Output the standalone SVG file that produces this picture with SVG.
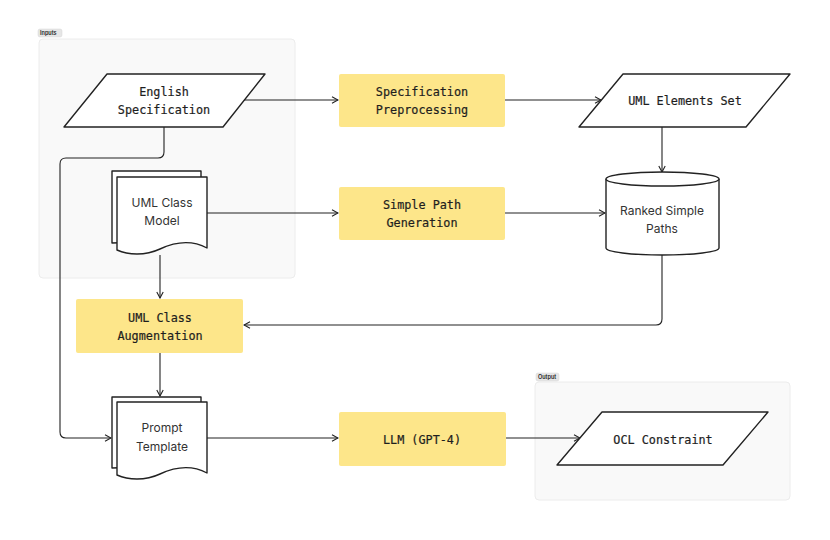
<svg xmlns="http://www.w3.org/2000/svg" width="830" height="540" viewBox="0 0 830 540">
<defs>
<marker id="arr" viewBox="0 0 8 8" refX="7" refY="4" markerWidth="8" markerHeight="8" markerUnits="userSpaceOnUse" orient="auto">
<path d="M1,0.8 L7,4 L1,7.2" fill="none" stroke="#222" stroke-width="1.1"/>
</marker>
</defs>
<style>
.grp{fill:#f9f9f9;stroke:#ececec;stroke-width:1}
.pill{fill:#e6e6e6;stroke:#d4d4d4;stroke-width:0.5}
.pilltxt{font-family:Inter,"Liberation Sans",sans-serif;font-size:5.5px;fill:#222;font-weight:600}
.shape{fill:#fff;stroke:#222;stroke-width:1.4;stroke-linejoin:round}
.proc{fill:#fde68a}
.mono{font-family:"DejaVu Sans Mono","Liberation Mono",monospace;font-size:11.8px;fill:#1e1e1e;text-anchor:middle;stroke:#1e1e1e;stroke-width:0.2}
.sans{font-family:Inter,"Liberation Sans",sans-serif;font-size:12px;fill:#333;text-anchor:middle}
.conn{fill:none;stroke:#222;stroke-width:1.1;marker-end:url(#arr)}
</style>
<rect width="830" height="540" fill="#fff"/>

<g id="group-inputs">
<rect class="grp" x="39" y="39" width="256" height="239" rx="4"/>
<rect class="pill" x="38" y="29" width="24" height="8" rx="2"/>
<text class="pilltxt" x="40" y="35">Inputs</text>
</g>
<g id="group-output">
<rect class="grp" x="535" y="382" width="255" height="118" rx="4"/>
<rect class="pill" x="536" y="373" width="23" height="8" rx="2"/>
<text class="pilltxt" x="538" y="379">Output</text>
</g>

<g id="connectors">
<path class="conn" d="M244,100 L338,100"/>
<path class="conn" d="M505,100 L601,100"/>
<path class="conn" d="M662,127 L662,172"/>
<path class="conn" d="M207,213 L338,213"/>
<path class="conn" d="M505,213 L605,213"/>
<path class="conn" d="M662,255 L662,319 Q662,325 656,325 L244,325"/>
<path class="conn" d="M160,255 L160,298"/>
<path class="conn" d="M160,353 L160,396"/>
<path class="conn" d="M164,127 L164,152 Q164,158 158,158 L66,158 Q60,158 60,164 L60,432 Q60,438 66,438 L111,438"/>
<path class="conn" d="M207,438 L338,438"/>
<path class="conn" d="M506,438 L580,438"/>
</g>

<g id="english-spec">
<path class="shape" d="M107,74 L265,74 L223,127 L64,127 Z"/>
<text class="mono" x="164" y="96">English</text>
<text class="mono" x="164" y="114">Specification</text>
</g>

<g id="spec-preproc">
<rect class="proc" x="339" y="74" width="166" height="53" rx="2"/>
<text class="mono" x="422" y="96">Specification</text>
<text class="mono" x="422" y="114">Preprocessing</text>
</g>

<g id="uml-elements-set">
<path class="shape" d="M623,74 L790,74 L746,127 L579,127 Z"/>
<text class="mono" x="685" y="105">UML Elements Set</text>
</g>

<g id="uml-class-model">
<path class="shape" d="M112,243 L112,171 L201,171 L201,240 Z"/>
<path class="shape" d="M117,250 L117,177 L207,177 L207,248 C192,240 175,242 160,249 C145,256 128,255 117,250 Z"/>
<text class="sans" x="162" y="207">UML Class</text>
<text class="sans" x="162" y="225">Model</text>
</g>

<g id="simple-path-gen">
<rect class="proc" x="339" y="187" width="166" height="53" rx="2"/>
<text class="mono" x="422" y="209">Simple Path</text>
<text class="mono" x="422" y="227">Generation</text>
</g>

<g id="ranked-simple-paths">
<path class="shape" d="M606,179 L606,248 A56.5,7 0 0 0 719,248 L719,179"/>
<ellipse class="shape" cx="662.5" cy="179" rx="56.5" ry="7"/>
<text class="sans" x="662" y="215">Ranked Simple</text>
<text class="sans" x="662" y="233">Paths</text>
</g>

<g id="uml-class-aug">
<rect class="proc" x="76" y="299" width="167" height="54" rx="2"/>
<text class="mono" x="160" y="322">UML Class</text>
<text class="mono" x="160" y="340">Augmentation</text>
</g>

<g id="prompt-template">
<path class="shape" d="M112,468 L112,397 L201,397 L201,465 Z"/>
<path class="shape" d="M117,475 L117,402 L207,402 L207,473 C192,465 175,467 160,474 C145,481 128,480 117,475 Z"/>
<text class="sans" x="162" y="432">Prompt</text>
<text class="sans" x="162" y="451">Template</text>
</g>

<g id="llm">
<rect class="proc" x="339" y="412" width="167" height="54" rx="2"/>
<text class="mono" x="422" y="444">LLM (GPT-4)</text>
</g>

<g id="ocl-constraint">
<path class="shape" d="M602,412 L768,412 L723,465 L557,465 Z"/>
<text class="mono" x="663" y="444">OCL Constraint</text>
</g>
</svg>
